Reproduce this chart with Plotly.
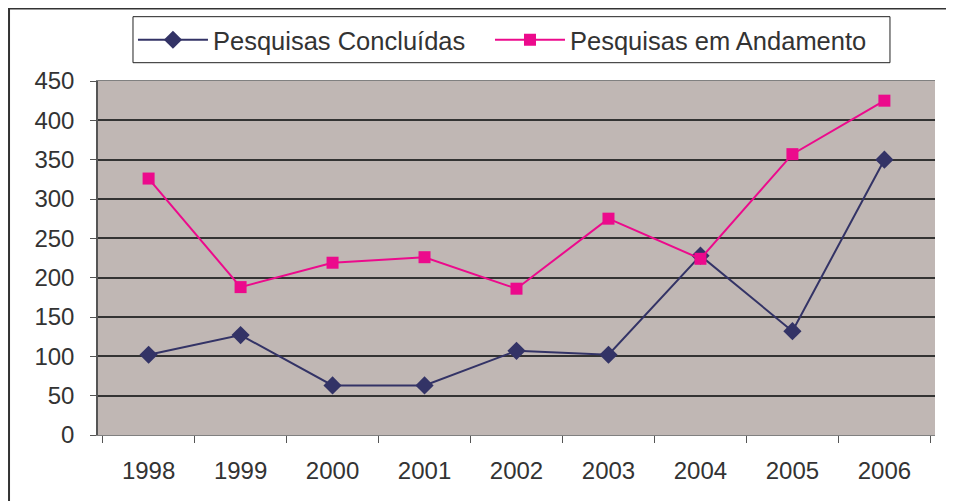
import plotly.graph_objects as go

anos = ["1998", "1999", "2000", "2001", "2002", "2003", "2004", "2005", "2006"]
concluidas = [102, 127, 63, 63, 107, 102, 228, 132, 350]
andamento = [326, 188, 219, 226, 186, 275, 224, 357, 425]
y_ticks = [0, 50, 100, 150, 200, 250, 300, 350, 400, 450]

FONT = "Liberation Sans, Arial, sans-serif"
TXT = "#333333"

fig = go.Figure()
fig.add_trace(go.Scatter(
    x=anos, y=concluidas, name="Pesquisas Concluídas", mode="lines+markers",
    line=dict(color="#333366", width=2),
    marker=dict(symbol="diamond", size=14, color="#333366"),
    legend="legend",
))
fig.add_trace(go.Scatter(
    x=anos, y=andamento, name="Pesquisas em Andamento", mode="lines+markers",
    line=dict(color="#EC0A8C", width=2),
    marker=dict(symbol="square", size=12, color="#EC0A8C"),
    legend="legend2",
))

leg_common = dict(
    orientation="h", xref="container", yref="container",
    xanchor="left", y=0.9824, yanchor="top",
    borderwidth=0, bgcolor="rgba(0,0,0,0)",
    font=dict(size=25.5, family=FONT, color=TXT),
    itemwidth=70,
)

fig.update_layout(
    width=946, height=493,
    margin=dict(l=90, r=19, t=73, b=66, autoexpand=False),
    paper_bgcolor="white",
    plot_bgcolor="#C0B7B4",
    font=dict(family=FONT, color=TXT, size=24),
    showlegend=True,
    legend=dict(x=0.1321, **leg_common),
    legend2=dict(x=0.5095, **leg_common),
    xaxis=dict(
        type="category", tickson="boundaries", ticks="outside", ticklen=7,
        tickcolor="#555555", showgrid=False, showline=True, linecolor="#808080",
        linewidth=1, mirror=True, tickfont=dict(size=24), ticklabelstandoff=14,
        zeroline=False, automargin=False,
    ),
    yaxis=dict(
        range=[0, 450], tickvals=y_ticks, ticks="outside", ticklen=6,
        tickcolor="#555555", showgrid=True, gridcolor="#333333", gridwidth=1.5,
        showline=True, linecolor="#555555", linewidth=1.5, zeroline=False,
        tickfont=dict(size=24), ticklabelstandoff=11, automargin=False,
    ),
    shapes=[
        dict(type="rect", xref="paper", yref="paper", x0=0.0418, x1=0.9462,
             y0=1.0517, y1=1.1817, line=dict(color="#222222", width=1),
             fillcolor="white", layer="below"),
        dict(type="line", xref="paper", yref="paper", x0=-0.108, x1=1.1,
             y0=1.205, y1=1.205, line=dict(color="#333333", width=2)),
        dict(type="line", xref="paper", yref="paper", x0=-0.1063, x1=-0.1063,
             y0=-0.2, y1=1.205, line=dict(color="#333333", width=2)),
    ],
)

fig.write_html("out.html")
